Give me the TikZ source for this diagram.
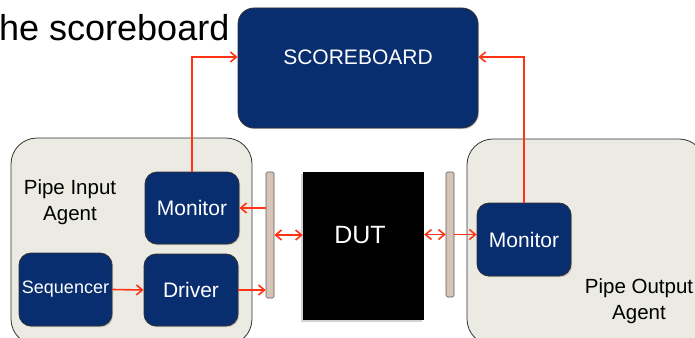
\documentclass[tikz,border=0pt]{standalone}
\usepackage{fontspec}
\setmainfont{Liberation Sans}
\usetikzlibrary{arrows.meta,shadows,calc}
\definecolor{navy}{RGB}{8,46,112}
\definecolor{agentfill}{RGB}{236,235,227}
\definecolor{barfill}{RGB}{214,196,184}
\definecolor{linkred}{RGB}{255,52,20}
\definecolor{edgegray}{RGB}{50,50,50}
\tikzset{
  navybox/.style={draw=edgegray, line width=0.8pt, fill=navy, rounded corners=12pt,
    text=white, font=\fontsize{21}{24}\selectfont, inner sep=0pt,
    drop shadow={opacity=0.35, shadow xshift=1.2pt, shadow yshift=-1.2pt}},
  agentbox/.style={draw=edgegray, line width=0.8pt, fill=agentfill, rounded corners=26pt, inner sep=0pt},
  barbox/.style={draw=edgegray!80, line width=0.6pt, fill=barfill, rounded corners=1.5pt, inner sep=0pt},
  dutbox/.style={fill=black, inner sep=0pt,
    drop shadow={opacity=0.35, shadow xshift=-2pt, shadow yshift=-2pt}},
  lbl/.style={font=\fontsize{20.5}{26}\selectfont, align=center, inner sep=0pt},
  link/.style={draw=linkred, line width=1.6pt, -{Straight Barb[length=6pt,width=10pt,line width=1.6pt]}},
  dlink/.style={draw=linkred, line width=1.6pt, {Straight Barb[length=6pt,width=10pt,line width=1.6pt]}-{Straight Barb[length=6pt,width=10pt,line width=1.6pt]}},
}
\begin{document}
\begin{tikzpicture}[x=1pt,y=-1pt]
\useasboundingbox (0,0) rectangle (695,337);
\clip (0,0) rectangle (695,337);
% slide text
\node[anchor=base west, inner sep=0pt, font=\fontsize{36}{40}\selectfont] (title) at (-1,41) {he scoreboard};
% agents
\node[agentbox, minimum width=241pt, minimum height=207pt] (inagent) at (131.5,241.5) {};
\node[agentbox, minimum width=238pt, minimum height=206pt] (outagent) at (586,242) {};
\node[lbl] (inlabel) at (70,202) {Pipe Input\\Agent};
\node[lbl] (outlabel) at (639,301) {Pipe Output\\Agent};
% scoreboard
\node[navybox, rounded corners=16pt, minimum width=240pt, minimum height=120pt] (sb) at (358,68) {};
\node[text=white, font=\fontsize{21}{24}\selectfont, inner sep=0pt] (sbtext) at (358,57) {SCOREBOARD};
% components
\node[navybox, minimum width=94pt, minimum height=72pt] (mi) at (192,208) {Monitor};
\node[navybox, minimum width=93pt, minimum height=73pt, font=\fontsize{18}{21}\selectfont] (sq) at (65.5,289.5) {Sequencer};
\node[navybox, minimum width=94pt, minimum height=72pt] (dr) at (191,290) {Driver};
\node[navybox, minimum width=94pt, minimum height=73pt] (mo) at (524,239.5) {Monitor};
% bars
\node[barbox, minimum width=8pt, minimum height=126pt] (lbar) at (270,235) {};
\node[barbox, minimum width=8pt, minimum height=125pt] (rbar) at (450,234.5) {};
% DUT
\node[dutbox, minimum width=121pt, minimum height=148pt] (dut) at (363.5,246) {};
\node[text=white, font=\fontsize{25}{28}\selectfont, inner sep=0pt] (duttext) at (360,235) {DUT};
% connectors
\draw[link] (mi.north) |- ([yshift=11pt]sb.west);
\draw[link] (mo.north) |- ([yshift=11pt]sb.east);
\draw[link] (lbar.west |- mi) -- (mi.east);
\draw[link] (sq.east) -- (dr.west);
\draw[link] (dr.east) -- (dr.east -| lbar.west);
\draw[dlink] (lbar.east) -- (lbar.east -| dut.west);
\draw[dlink] (dut.east |- rbar) -- (rbar.west);
\draw[link] (rbar.east) -- (rbar.east -| mo.west);
\end{tikzpicture}
\end{document}
